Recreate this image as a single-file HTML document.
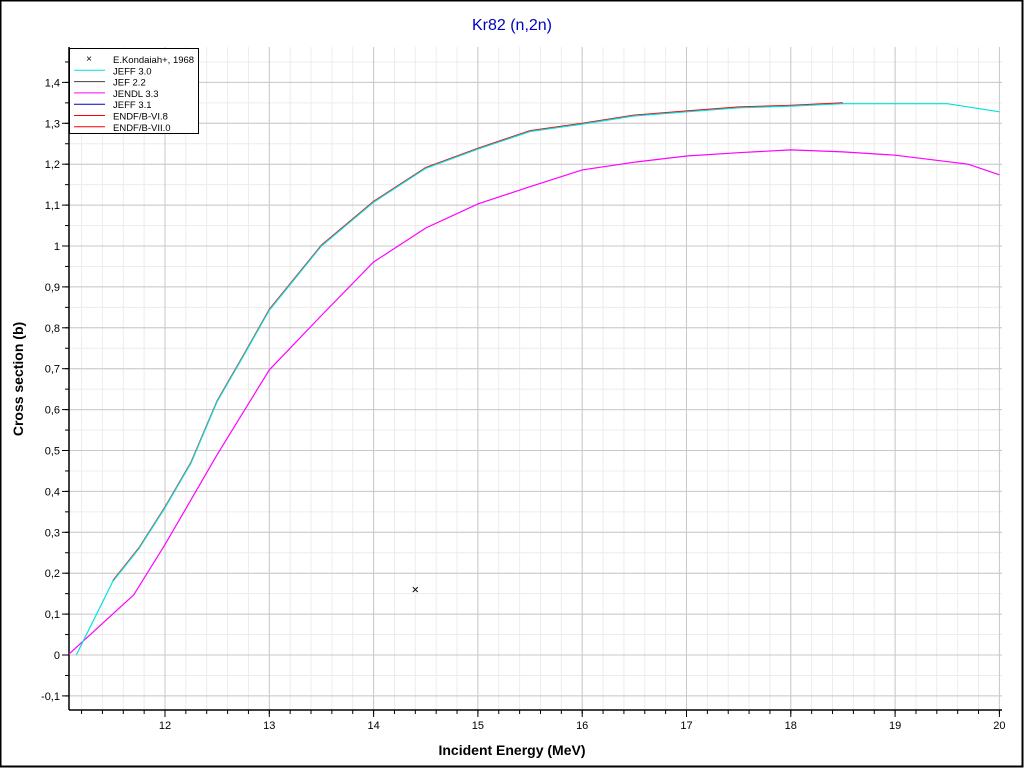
<!DOCTYPE html>
<html><head><meta charset="utf-8"><style>
html,body{margin:0;padding:0;background:#fff;}
svg{display:block;font-family:"Liberation Sans",sans-serif;}
</style></head><body>
<svg id="s" width="1024" height="768" xmlns="http://www.w3.org/2000/svg">
<defs><clipPath id="c"><rect x="69" y="47" width="933" height="663"/></clipPath></defs>
<rect x="0.5" y="0.5" width="1022" height="766" fill="#fff" stroke="#000" stroke-width="2"/>
<text x="512" y="30" text-anchor="middle" font-size="16" fill="#0000c0">Kr82 (n,2n)</text>
<text x="512" y="755" text-anchor="middle" font-size="14" font-weight="bold">Incident Energy (MeV)</text>
<text transform="translate(23,379) rotate(-90)" text-anchor="middle" font-size="14" font-weight="bold">Cross section (b)</text>
<g id="g"></g>
</svg>
<script>
var L=69,R=1002,T=47,B=710;
function X(e){return 165+(e-12)*104.3;}
function Y(v){return 655-v*409;}
var s='';
for(var e=11.2;e<20.01;e+=0.2){var x=X(e);if(x>L&&x<R)s+='<line x1="'+x+'" y1="'+T+'" x2="'+x+'" y2="'+B+'" stroke="#ececec"/>';}
for(var v=-0.15;v<1.5;v+=0.05){var y=Y(v);if(y>T&&y<B)s+='<line x1="'+L+'" y1="'+y+'" x2="'+R+'" y2="'+y+'" stroke="#ececec"/>';}
for(var e=12;e<=20;e++){var x=X(e);s+='<line x1="'+x+'" y1="'+T+'" x2="'+x+'" y2="'+B+'" stroke="#c8c8c8"/>';s+='<line x1="'+x+'" y1="'+B+'" x2="'+x+'" y2="'+(B+7)+'" stroke="#000"/>';s+='<text x="'+x+'" y="'+(B+19)+'" font-size="11" text-anchor="middle">'+e+'</text>';}
for(var e=11.2;e<20.01;e+=0.2){var x=X(e);if(x>L)s+='<line x1="'+x+'" y1="'+B+'" x2="'+x+'" y2="'+(B+4)+'" stroke="#000"/>';}
for(var i=-1;i<=14;i++){var v=i/10,y=Y(v);s+='<line x1="'+L+'" y1="'+y+'" x2="'+R+'" y2="'+y+'" stroke="#c8c8c8"/>';s+='<line x1="'+(L-7)+'" y1="'+y+'" x2="'+L+'" y2="'+y+'" stroke="#000"/>';var t=(i==0?'0':(i==10?'1':(v<0?'-':'')+(Math.floor(Math.abs(i)/10))+','+(Math.abs(i)%10)));s+='<text x="'+(L-9)+'" y="'+(y+4)+'" font-size="11" text-anchor="end">'+t+'</text>';}
for(var i=-2;i<=29;i++){var y=Y(i/20);if(y>T&&y<B)s+='<line x1="'+(L-4)+'" y1="'+y+'" x2="'+L+'" y2="'+y+'" stroke="#000"/>';}
s+='<line x1="'+L+'" y1="'+T+'" x2="'+L+'" y2="'+B+'" stroke="#000" stroke-width="1.5"/>';
s+='<line x1="'+L+'" y1="'+B+'" x2="'+R+'" y2="'+B+'" stroke="#000" stroke-width="1.5"/>';
function pl(d,c,dy){var p=d.map(function(a){return X(a[0]).toFixed(1)+','+(Y(a[1])+(dy||0)).toFixed(1)}).join(' ');return '<polyline clip-path="url(#c)" points="'+p+'" fill="none" stroke="'+c+'" stroke-width="1.2"/>';}
var cy=[[11.15,0],[11.5,0.18],[11.75,0.26],[12,0.36],[12.25,0.47],[12.5,0.62],[12.75,0.73],[13,0.843],[13.5,1.0],[14,1.107],[14.5,1.19],[15,1.237],[15.5,1.28],[16,1.298],[16.5,1.318],[17,1.328],[17.5,1.338],[18,1.342],[18.5,1.348],[19.5,1.348],[20,1.328]];
var mg=[[11.07,0],[11.7,0.147],[12,0.27],[12.5,0.49],[13,0.697],[13.5,0.83],[14,0.961],[14.5,1.044],[15,1.103],[15.5,1.145],[16,1.186],[16.5,1.205],[17,1.22],[17.5,1.228],[18,1.235],[18.5,1.23],[19,1.222],[19.7,1.2],[20,1.174]];
s+=pl(mg,'#ff00ff');
s+=pl(cy.filter(function(a){return a[0]>=11.5&&a[0]<=18.5}),'#ff0000',-0.8);
s+=pl(cy,'#00e0e0');
var px=X(14.4),py=Y(0.16);
s+='<path d="M'+(px-2.5)+','+(py-2.5)+'L'+(px+2.5)+','+(py+2.5)+'M'+(px-2.5)+','+(py+2.5)+'L'+(px+2.5)+','+(py-2.5)+'" stroke="#000"/>';
s+='<rect x="69.5" y="48.5" width="129" height="85" fill="#fff" stroke="#000"/>';
var lg=[['E.Kondaiah+, 1968',null],['JEFF 3.0','#00e0e0'],['JEF 2.2','#404040'],['JENDL 3.3','#ff00ff'],['JEFF 3.1','#0000c0'],['ENDF/B-VI.8','#ff0000'],['ENDF/B-VII.0','#ff0000']];
lg.forEach(function(a,i){var y=59+i*11.3;if(a[1])s+='<line x1="74" y1="'+y+'" x2="105" y2="'+y+'" stroke="'+a[1]+'"/>';else s+='<text x="89" y="'+(y+3)+'" font-size="10" text-anchor="middle">×</text>';s+='<text x="113" y="'+(y+4)+'" font-size="9.5">'+a[0]+'</text>';});
document.getElementById('g').innerHTML=s;
</script>
</body></html>
